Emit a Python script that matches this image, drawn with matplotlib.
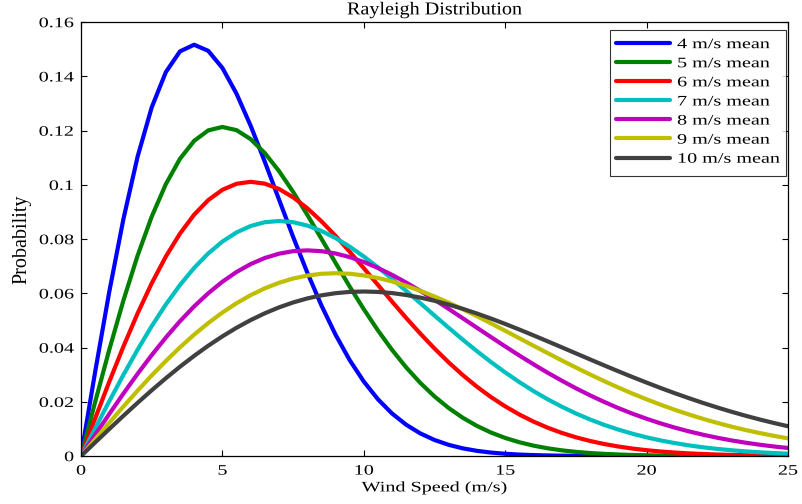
"""Rayleigh wind speed distributions for several mean speeds."""

import matplotlib
matplotlib.use("Agg")
import matplotlib.pyplot as plt
from matplotlib.patheffects import AbstractPathEffect
from matplotlib.transforms import Affine2D

plt.rcParams["font.family"] = ["Liberation Serif", "DejaVu Serif"]

# wind speed grid (m/s), 0 to 25 in 0.5 steps
wind_speed = [i * 0.5 for i in range(51)]

p_4 = [0.0, 0.03101, 0.06058, 0.08738, 0.11031, 0.12853, 0.14153, 0.14918, 0.15163, 0.14937,
       0.14307, 0.13357, 0.12174, 0.10849, 0.09462, 0.08083, 0.06767, 0.05556, 0.04475, 0.03537,
       0.02746, 0.02093, 0.01567, 0.01153, 0.00833, 0.00592, 0.00413, 0.00283, 0.00191, 0.00127,
       0.00083, 0.00053, 0.00034, 0.00021, 0.00013, 0.00008, 0.00005, 0.00003, 0.00002, 0.00001,
       0.00001, 0.0, 0.0, 0.0, 0.0, 0.0, 0.0, 0.0, 0.0, 0.0, 0.0]
p_5 = [0.0, 0.01990, 0.03921, 0.05736, 0.07385, 0.08825, 0.10023, 0.10958, 0.11618, 0.12006,
       0.12131, 0.12014, 0.11682, 0.11169, 0.10509, 0.09740, 0.08897, 0.08015, 0.07124, 0.06250,
       0.05413, 0.04631, 0.03912, 0.03266, 0.02694, 0.02197, 0.01771, 0.01411, 0.01111, 0.00865,
       0.00667, 0.00508, 0.00383, 0.00285, 0.00210, 0.00153, 0.00110, 0.00079, 0.00056, 0.00039,
       0.00027, 0.00018, 0.00012, 0.00008, 0.00006, 0.00004, 0.00002, 0.00001, 0.00001, 0.00001,
       0.0]
p_6 = [0.0, 0.01384, 0.02740, 0.04038, 0.05255, 0.06367, 0.07354, 0.08201, 0.08897, 0.09436,
       0.09815, 0.10037, 0.10109, 0.10041, 0.09846, 0.09538, 0.09136, 0.08656, 0.08116, 0.07534,
       0.06926, 0.06308, 0.05692, 0.05089, 0.04511, 0.03964, 0.03454, 0.02984, 0.02556, 0.02172,
       0.01831, 0.01531, 0.01270, 0.01045, 0.00853, 0.00691, 0.00555, 0.00443, 0.00351, 0.00275,
       0.00215, 0.00166, 0.00128, 0.00097, 0.00074, 0.00055, 0.00041, 0.00030, 0.00022, 0.00016,
       0.00012]
p_7 = [0.0, 0.01018, 0.02020, 0.02992, 0.03918, 0.04787, 0.05585, 0.06304, 0.06934, 0.07469,
       0.07906, 0.08243, 0.08480, 0.08620, 0.08665, 0.08621, 0.08497, 0.08299, 0.08037, 0.07719,
       0.07356, 0.06957, 0.06531, 0.06087, 0.05634, 0.05179, 0.04730, 0.04290, 0.03867, 0.03463,
       0.03082, 0.02726, 0.02395, 0.02093, 0.01818, 0.01569, 0.01347, 0.01149, 0.00975, 0.00822,
       0.00689, 0.00574, 0.00476, 0.00392, 0.00321, 0.00262, 0.00213, 0.00171, 0.00137, 0.00109,
       0.00087]
p_8 = [0.0, 0.00780, 0.01550, 0.02303, 0.03029, 0.03720, 0.04369, 0.04970, 0.05516, 0.06002,
       0.06426, 0.06785, 0.07077, 0.07301, 0.07459, 0.07552, 0.07582, 0.07552, 0.07468, 0.07334,
       0.07154, 0.06933, 0.06678, 0.06395, 0.06087, 0.05762, 0.05425, 0.05079, 0.04731, 0.04384,
       0.04041, 0.03707, 0.03383, 0.03073, 0.02778, 0.02499, 0.02238, 0.01995, 0.01769, 0.01562,
       0.01373, 0.01202, 0.01047, 0.00908, 0.00784, 0.00674, 0.00576, 0.00491, 0.00417, 0.00352,
       0.00296]
p_9 = [0.0, 0.00616, 0.01227, 0.01826, 0.02409, 0.02970, 0.03504, 0.04006, 0.04474, 0.04903,
       0.05290, 0.05634, 0.05931, 0.06182, 0.06386, 0.06543, 0.06653, 0.06718, 0.06739, 0.06719,
       0.06659, 0.06564, 0.06435, 0.06276, 0.06091, 0.05882, 0.05655, 0.05411, 0.05155, 0.04890,
       0.04618, 0.04343, 0.04068, 0.03795, 0.03525, 0.03263, 0.03008, 0.02762, 0.02526, 0.02302,
       0.02090, 0.01891, 0.01704, 0.01530, 0.01369, 0.01221, 0.01084, 0.00959, 0.00847, 0.00744,
       0.00651]
p_10 = [0.0, 0.00499, 0.00995, 0.01483, 0.01960, 0.02423, 0.02868, 0.03292, 0.03692, 0.04067,
        0.04412, 0.04728, 0.05012, 0.05262, 0.05479, 0.05661, 0.05809, 0.05923, 0.06003, 0.06050,
        0.06065, 0.06050, 0.06007, 0.05936, 0.05841, 0.05723, 0.05584, 0.05427, 0.05254, 0.05068,
        0.04870, 0.04663, 0.04449, 0.04230, 0.04008, 0.03785, 0.03562, 0.03342, 0.03125, 0.02913,
        0.02707, 0.02507, 0.02315, 0.02132, 0.01956, 0.01790, 0.01633, 0.01485, 0.01347, 0.01218,
        0.01098]

series = [p_4, p_5, p_6, p_7, p_8, p_9, p_10]
labels = ["4 m/s mean", "5 m/s mean", "6 m/s mean", "7 m/s mean",
          "8 m/s mean", "9 m/s mean", "10 m/s mean"]
colors = ["#0000ff", "#008000", "#ff0000", "#00bfbf", "#bf00bf", "#bfbf00", "#404040"]

FS = 14.5
SQUASH = 0.72


class Squash(AbstractPathEffect):
    """Draw text a bit flatter (the reference text looks wide and low)."""

    def __init__(self, sy, anchor="baseline"):
        super().__init__()
        self._sy = sy
        self._anchor = anchor

    def draw_path(self, renderer, gc, tpath, affine, rgbFace=None):
        ext = tpath.get_extents(affine)
        if self._anchor == "top":
            y0 = ext.y1
        elif self._anchor == "center":
            y0 = (ext.y0 + ext.y1) / 2
        else:
            y0 = affine.transform((0, 0))[1]
        flat = Affine2D().translate(0, -y0).scale(1, self._sy).translate(0, y0)
        renderer.draw_path(gc, tpath, affine + flat, rgbFace)


def main() -> None:
    fig = plt.figure(figsize=(8.02, 5.04), dpi=100)
    ax = fig.add_axes([0.101, 0.0952, 0.8815, 0.8611])

    for vals, lab, col in zip(series, labels, colors):
        ax.plot(wind_speed, vals, color=col, linewidth=3, label=lab,
                solid_joinstyle="round", solid_capstyle="round")

    ax.set_xlim(0, 25)
    ax.set_ylim(0, 0.16)
    ax.set_xticks([0, 5, 10, 15, 20, 25])
    ax.set_yticks([0, 0.02, 0.04, 0.06, 0.08, 0.1, 0.12, 0.14, 0.16])
    ax.set_yticklabels(["0", "0.02", "0.04", "0.06", "0.08", "0.1", "0.12", "0.14", "0.16"])
    ax.tick_params(direction="in", top=True, right=True, length=4, width=0.8, labelsize=FS)
    ax.tick_params(axis="x", pad=6)
    ax.tick_params(axis="y", pad=5)
    for sp in ax.spines.values():
        sp.set_linewidth(0.9)

    for t in ax.get_xticklabels():
        t.set_path_effects([Squash(SQUASH, "top")])
    for t in ax.get_yticklabels():
        t.set_path_effects([Squash(SQUASH, "center")])

    xl = ax.set_xlabel("Wind Speed (m/s)", fontsize=FS, labelpad=-2)
    xl.set_path_effects([Squash(SQUASH, "top")])
    ax.set_ylabel("Probability", fontsize=FS, labelpad=5)
    tt = ax.set_title("Rayleigh Distribution", fontsize=FS, pad=5.5)
    tt.set_path_effects([Squash(0.9, "baseline")])

    leg = ax.legend(loc="upper right", bbox_to_anchor=(0.997, 0.982), fontsize=FS,
                    frameon=True, fancybox=False, handlelength=2.7, handletextpad=0.35,
                    labelspacing=0.0, borderpad=0.3, borderaxespad=0)
    leg.get_frame().set_edgecolor("black")
    leg.get_frame().set_linewidth(0.8)
    for t in leg.get_texts():
        t.set_path_effects([Squash(SQUASH, "center")])

    fig.savefig("out.png", dpi=100)
    plt.close(fig)


if __name__ == "__main__":
    main()
